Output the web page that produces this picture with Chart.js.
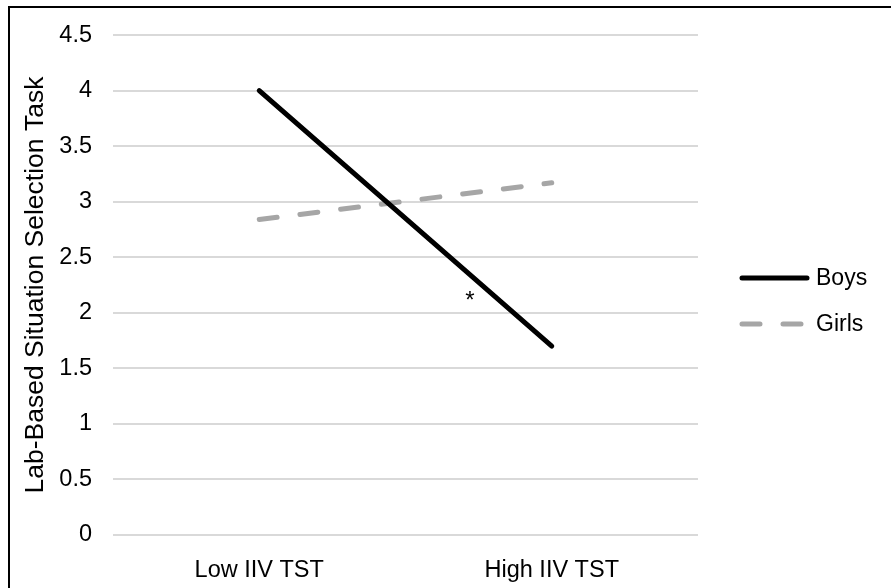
<!DOCTYPE html>
<html>
<head>
<meta charset="utf-8">
<script src="https://cdn.jsdelivr.net/npm/chart.js@4/dist/chart.umd.min.js"></script>
<style>
  html, body { margin: 0; padding: 0; background: #fff; }
  #frame {
    position: absolute; left: 8px; top: 6px;
    width: 1000px; height: 1000px;
    border: 2px solid #000;
  }
  #wrap { position: absolute; left: 0; top: 0; width: 891px; height: 588px; }
</style>
</head>
<body>
<div id="frame"></div>
<div id="wrap"><canvas id="lineChart"></canvas></div>
<script>
const categories = ["Low IIV TST", "High IIV TST"];
const boysValues = [4.0, 1.7];
const girlsValues = [2.84, 3.17];
const yTicks = [0, 0.5, 1, 1.5, 2, 2.5, 3, 3.5, 4, 4.5];
const seriesNames = ["Boys", "Girls"];
// significance marker, placed in data units
const starLabel = "*";
const starPos = [0.72, 2.14];

const FONT = "'Liberation Sans', Arial, sans-serif";

const ctx = document.getElementById("lineChart");

// draws the legend on the right like the Excel original
const sideLegend = {
  id: "sideLegend",
  afterDraw(chart) {
    const c = chart.ctx;
    const x0 = chart.chartArea.right + 44;
    const mid = (chart.chartArea.top + chart.chartArea.bottom) / 2;
    chart.data.datasets.forEach((ds, i) => {
      const y = mid - 7 + i * 46;
      c.save();
      c.strokeStyle = ds.borderColor;
      c.lineWidth = ds.borderWidth;
      c.lineCap = "round";
      c.setLineDash(ds.borderDash || []);
      c.beginPath();
      c.moveTo(x0, y);
      c.lineTo(x0 + 65, y);
      c.stroke();
      c.setLineDash([]);
      c.fillStyle = "#000";
      c.font = "23px " + FONT;
      c.textBaseline = "middle";
      c.fillText(ds.label, x0 + 74, y + 1);
      c.restore();
    });
  },
};

const starMarker = {
  id: "starMarker",
  afterDatasetsDraw(chart) {
    const c = chart.ctx;
    const x = chart.scales.x.getPixelForValue(starPos[0]);
    const y = chart.scales.y.getPixelForValue(starPos[1]);
    c.save();
    c.fillStyle = "#000";
    c.font = "24px " + FONT;
    c.textAlign = "center";
    c.textBaseline = "middle";
    c.fillText(starLabel, x, y + 4);
    c.restore();
  },
};

const config = {
  type: "line",
  data: {
    labels: categories,
    datasets: [
      {
        label: seriesNames[0],
        data: boysValues,
        borderColor: "#000000",
        borderWidth: 5,
        borderCapStyle: "round",
        pointRadius: 0,
        tension: 0,
      },
      {
        label: seriesNames[1],
        data: girlsValues,
        borderColor: "#a6a6a6",
        borderWidth: 5,
        borderCapStyle: "round",
        borderDash: [18, 23],
        pointRadius: 0,
        tension: 0,
      },
    ],
  },
  options: {
    responsive: true,
    maintainAspectRatio: false,
    animation: false,
    layout: {
      padding: { left: 10, right: 193, top: 34, bottom: 0 },
    },
    plugins: {
      legend: { display: false },
      tooltip: { enabled: false },
    },
    scales: {
      x: {
        offset: true,
        grid: { display: false, drawTicks: false },
        border: { display: false },
        ticks: {
          color: "#000",
          padding: 21,
          font: { family: FONT, size: 23.5 },
          maxRotation: 0,
        },
        afterFit: (scale) => {
          scale.height = 53;
        },
      },
      y: {
        min: 0,
        max: 4.5,
        afterBuildTicks: (scale) => {
          scale.ticks = yTicks.map((v) => ({ value: v }));
        },
        grid: { color: "#d9d9d9", lineWidth: 2, drawTicks: false },
        border: { display: false },
        ticks: {
          color: "#000",
          padding: 21,
          font: { family: FONT, size: 23.5 },
          callback: (value) => String(value),
        },
        title: {
          display: true,
          text: "Lab-Based Situation Selection Task",
          color: "#000",
          font: { family: FONT, size: 26.5 },
          padding: { top: 10, bottom: 0 },
        },
        afterFit: (scale) => {
          scale.width = 103;
        },
      },
    },
  },
  plugins: [sideLegend, starMarker],
};

new Chart(ctx, config);
</script>
</body>
</html>
